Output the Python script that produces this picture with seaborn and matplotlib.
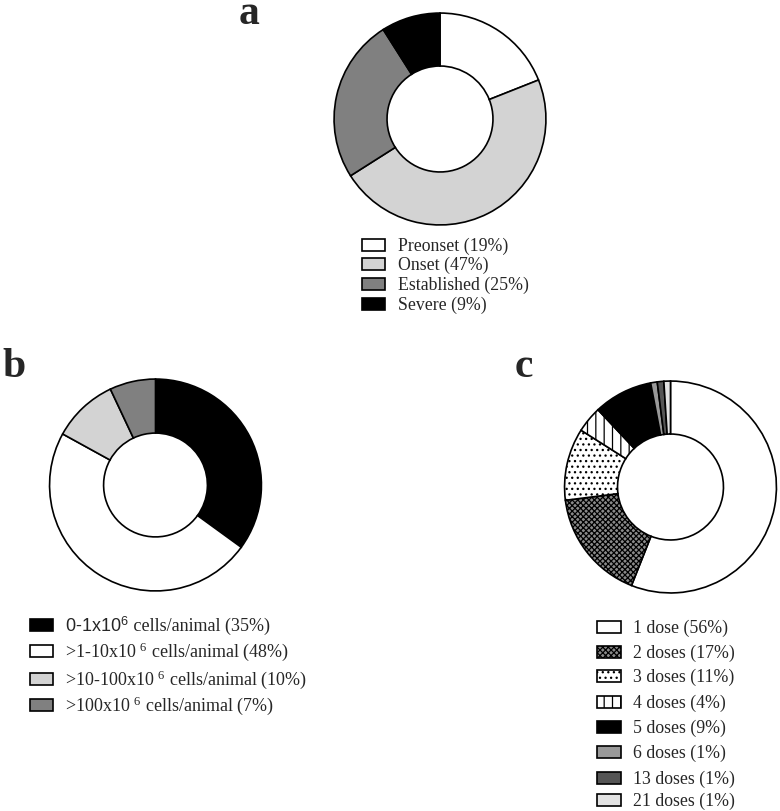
import matplotlib
matplotlib.use("Agg")
import matplotlib.pyplot as plt
from matplotlib.patches import Rectangle
import seaborn as sns

# ---- data ----
a_labels = ["Preonset (19%)", "Onset (47%)", "Established (25%)", "Severe (9%)"]
a_values = [19, 47, 25, 9]

b_labels = [("0-1x10$^{\\mathsf{6}}$", " cells/animal (35%)"),
            (None, r">1-10x10 $^{6}$ cells/animal (48%)"),
            (None, r">10-100x10 $^{6}$ cells/animal (10%)"),
            (None, r">100x10 $^{6}$ cells/animal (7%)")]
b_values = [35, 48, 10, 7]

c_labels = ["1 dose (56%)", "2 doses (17%)", "3 doses (11%)", "4 doses (4%)",
            "5 doses (9%)", "6 doses (1%)", "13 doses (1%)", "21 doses (1%)"]
c_values = [56, 17, 11, 4, 9, 1, 1, 1]

sns.set_theme(style="white")
plt.rcParams['font.family'] = ['Liberation Serif', 'DejaVu Serif']
plt.rcParams['mathtext.fontset'] = 'custom'
plt.rcParams['mathtext.rm'] = 'Liberation Serif'
plt.rcParams['mathtext.it'] = 'Liberation Serif:italic'
plt.rcParams['mathtext.sf'] = 'Liberation Sans'
plt.rcParams['hatch.linewidth'] = 0.9

W, H = 780, 812
fig = plt.figure(figsize=(7.8, 8.12), dpi=100)
renderer = fig.canvas.get_renderer()

def add_pie(cx, cy, r, values, colors, hatches, width):
    ax = fig.add_axes([(cx - r) / W, 1 - (cy + r) / H, 2 * r / W, 2 * r / H])
    wedges, _ = ax.pie(values, colors=colors, startangle=90, counterclock=False,
                       radius=1.0, wedgeprops=dict(width=width, edgecolor='black', linewidth=1.2))
    for w, h in zip(wedges, hatches):
        if h:
            w.set_hatch(h)
    ax.set_xlim(-1.01, 1.01)
    ax.set_ylim(-1.01, 1.01)
    ax.set_axis_off()
    return ax

def add_legend(x_rect, x_text, rows, labels, colors, hatches, fs=12.8, rw=23, rh=12):
    for y, lab, col, h in zip(rows, labels, colors, hatches):
        rect = Rectangle((x_rect / W, 1 - (y + rh / 2) / H), rw / W, rh / H,
                         transform=fig.transFigure, facecolor=col, edgecolor='black',
                         linewidth=1.2, hatch=h)
        fig.patches.append(rect)
        if isinstance(lab, tuple):
            sans_part, serif_part = lab
            x = x_text / W
            if sans_part:
                t = fig.text(x, 1 - y / H, sans_part, fontsize=fs, va='center', ha='left',
                             family=['Liberation Sans', 'DejaVu Sans'])
                bb = t.get_window_extent(renderer)
                x = (bb.x1) / W
            fig.text(x, 1 - y / H, serif_part, fontsize=fs, va='center', ha='left')
        else:
            fig.text(x_text / W, 1 - y / H, lab, fontsize=fs, va='center', ha='left')

# ---- a ----
a_colors = ['white', '#d3d3d3', '#808080', 'black']
a_hatch = [None] * 4
add_pie(440, 120, 107, a_values, a_colors, a_hatch, 0.50)
add_legend(362, 398, [246, 265, 285, 305], a_labels, a_colors, a_hatch)

# ---- b ----
b_colors = ['black', 'white', '#d3d3d3', '#808080']
b_hatch = [None] * 4
add_pie(155.5, 486, 107, b_values, b_colors, b_hatch, 0.51)
add_legend(30, 65, [626, 652, 680, 706], b_labels, b_colors, b_hatch, fs=13)

# ---- c ----
c_colors = ['white', '#8a8a8a', 'white', 'white', 'black', '#999999', '#555555', '#e3e3e3']
c_hatch = [None, 'xxxxxx', '...', '||', None, None, None, None]
add_pie(670.5, 488, 107, c_values, c_colors, c_hatch, 0.50)
add_legend(597, 633, [628, 653, 677, 703, 728, 753, 779, 801], c_labels, c_colors, c_hatch, rw=24)

# panel letters
for letter, x, y in [("a", 239, 24), ("b", 2, 377), ("c", 515, 377)]:
    fig.text(x / W, 1 - y / H, letter, fontsize=30, fontweight='bold', va='baseline', ha='left')

fig.savefig("out.png", dpi=100, facecolor='white')
